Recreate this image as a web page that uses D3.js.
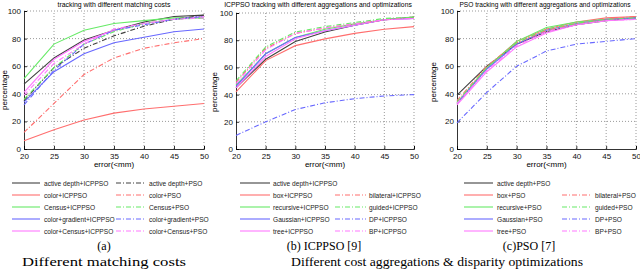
<!DOCTYPE html>
<html><head><meta charset="utf-8">
<script src="https://cdn.jsdelivr.net/npm/d3@7"></script>
<style>body{margin:0;background:#fff}svg{display:block}</style>
</head><body>
<svg id="c" width="640" height="274"></svg>
<script>
// ---------- DATA ----------
const errorTicks = [20, 25, 30, 35, 40, 45, 50];
const pctTicks = [0, 20, 40, 60, 80, 100];

// Panel (a): matching costs
const aNames = ["active depth+ICPPSO","color+ICPPSO","Census+ICPPSO","color+gradient+ICPPSO","color+Census+ICPPSO",
                "active depth+PSO","color+PSO","Census+PSO","color+gradient+PSO","color+Census+PSO"];
const aActiveICP   = [47, 66, 79, 86, 92, 96, 97];
const aColorICP    = [6, 14, 21, 26, 29, 31, 33];
const aCensusICP   = [51, 76, 86, 91, 93, 95, 95];
const aGradICP     = [34, 56, 69, 77, 81, 85, 87];
const aColCenICP   = [41, 65, 78, 86, 91, 94, 96];
const aActivePSO   = [35, 59, 73, 82, 89, 94, 97];
const aColorPSO    = [12, 33, 54, 66, 73, 77, 80];
const aCensusPSO   = [36, 59, 76, 85, 91, 94, 95];
const aGradPSO     = [32, 57, 76, 86, 90, 94, 96];
const aColCenPSO   = [39, 62, 76, 87, 91, 94, 95];

// Panel (b): ICPPSO
const bNames = ["active depth+ICPPSO","box+ICPPSO","recursive+ICPPSO","Gaussian+ICPPSO","tree+ICPPSO",
                "bilateral+ICPPSO","guided+ICPPSO","DP+ICPPSO","BP+ICPPSO"];
const bActive    = [45, 66, 79, 86, 91, 95, 97];
const bBox       = [42, 65, 76, 81, 85, 88, 90];
const bRecursive = [47, 70, 82, 88, 92, 95, 97];
const bGaussian  = [46, 70, 82, 87, 91, 95, 96];
const bTree      = [45, 68, 81, 87, 91, 95, 96];
const bBilateral = [49, 74, 85, 89, 92, 95, 97];
const bGuided    = [50, 75, 86, 90, 93, 96, 97];
const bDP        = [10, 20, 29, 34, 37, 39, 40];
const bBP        = [48, 73, 85, 89, 92, 95, 96];

// Panel (c): PSO
const cNames = ["active depth+PSO","box+PSO","recursive+PSO","Gaussian+PSO","tree+PSO",
                "bilateral+PSO","guided+PSO","DP+PSO","BP+PSO"];
const cActive    = [39, 60, 76, 85, 90, 93, 95];
const cBox       = [33, 59, 78, 87, 92, 95, 96];
const cRecursive = [33, 59, 78, 88, 92, 94, 95];
const cGaussian  = [33, 58, 76, 86, 91, 94, 95];
const cTree      = [32, 56, 74, 84, 90, 93, 94];
const cBilateral = [35, 60, 77, 86, 91, 94, 96];
const cGuided    = [34, 59, 77, 87, 91, 94, 95];
const cDP        = [19, 41, 60, 71, 76, 78, 80];
const cBP        = [33, 57, 75, 85, 90, 93, 94];

const titles = ["tracking with different matching costs",
                "ICPPSO tracking with different aggregations and optimizations",
                "PSO tracking with different aggregations and optimizations"];
const subCaptions = ["(a)", "(b) ICPPSO [9]", "(c)PSO [7]"];
const captions = ["Different matching costs", "Different cost aggregations & disparity optimizations"];
const xLabel = "error(<mm)";
const yLabel = "percentage";

// ---------- STYLE ----------
const C = {k:"#404040", r:"#ff6e6e", g:"#66ea66", b:"#6868ff", m:"#ff78ff"};
const SOLID = null, DASHDOT = "5,2,1,2";

const svg = d3.select("#c");
const sans = "'Liberation Sans', Arial, sans-serif";
const serif = "'Liberation Serif', 'Times New Roman', serif";

function panel(cfg) {
  const x = d3.scaleLinear().domain([20, 50]).range([cfg.x0, cfg.x1]);
  const y = d3.scaleLinear().domain([0, 100]).range([cfg.y0, cfg.y1]);
  const g = svg.append("g");
  // grid
  g.selectAll(".gx").data(errorTicks.slice(1)).enter().append("line")
    .attr("x1", d => x(d)).attr("x2", d => x(d)).attr("y1", y(0)).attr("y2", y(100))
    .attr("stroke", "#555").attr("stroke-width", 0.6).attr("stroke-dasharray", "1,2");
  g.selectAll(".gy").data(pctTicks.slice(1)).enter().append("line")
    .attr("x1", x(20)).attr("x2", x(50)).attr("y1", d => y(d)).attr("y2", d => y(d))
    .attr("stroke", "#555").attr("stroke-width", 0.6).attr("stroke-dasharray", "1,2");
  // axes
  const ax = g.append("g").attr("transform", `translate(0,${y(0)})`)
    .call(d3.axisBottom(x).tickValues(errorTicks).tickSize(-3).tickPadding(3));
  const ay = g.append("g").attr("transform", `translate(${x(20)},0)`)
    .call(d3.axisLeft(y).tickValues(pctTicks).tickSize(-3).tickPadding(3));
  [ax, ay].forEach(a => {
    a.selectAll("path").attr("stroke", "#000").attr("stroke-width", 0.8);
    a.selectAll("line").attr("stroke", "#000").attr("stroke-width", 0.8);
    a.selectAll("text").attr("font-family", sans).attr("font-size", 8).attr("fill", "#111");
  });
  ax.selectAll("text").attr("dy", "0.9em");
  // lines
  const line = d3.line().x((d, i) => x(errorTicks[i])).y(d => y(d));
  cfg.series.forEach(s => {
    g.append("path").datum(s.v).attr("d", line).attr("fill", "none")
      .attr("stroke", s.c).attr("stroke-width", 1.1)
      .attr("stroke-dasharray", s.d);
  });
  // labels
  g.append("text").attr("x", cfg.tx).attr("y", 7)
    .attr("text-anchor", "middle").attr("font-family", sans).attr("font-size", cfg.tf).text(cfg.title);
  g.append("text").attr("x", (cfg.x0 + cfg.x1) / 2).attr("y", 167)
    .attr("text-anchor", "middle").attr("font-family", sans).attr("font-size", 8).text(xLabel);
  g.append("text").attr("transform", `translate(${cfg.yl},${cfg.ylc}) rotate(-90)`)
    .attr("text-anchor", "middle").attr("font-family", sans).attr("font-size", 8).text(yLabel);
  // legend
  cfg.legend.forEach(L => {
    g.append("line").attr("x1", L.lx0).attr("x2", L.lx1).attr("y1", L.y).attr("y2", L.y)
      .attr("stroke", L.s.c).attr("stroke-width", 1.1).attr("stroke-dasharray", L.s.d);
    g.append("text").attr("x", L.tx).attr("y", L.y + 2.5).attr("font-family", sans)
      .attr("font-size", 6.6).attr("fill", "#222").text(L.s.n);
  });
}

function mk(names, vals, cols, dashes) {
  return names.map((n, i) => ({n, v: vals[i], c: cols[i], d: dashes[i]}));
}

const rows = [183, 195, 207, 219, 231];

// Panel (a)
const aS = mk(aNames, [aActiveICP, aColorICP, aCensusICP, aGradICP, aColCenICP, aActivePSO, aColorPSO, aCensusPSO, aGradPSO, aColCenPSO],
  [C.k, C.r, C.g, C.b, C.m, C.k, C.r, C.g, C.b, C.m],
  [SOLID, SOLID, SOLID, SOLID, SOLID, DASHDOT, DASHDOT, DASHDOT, DASHDOT, DASHDOT]);
panel({x0: 24, x1: 204, y0: 149, y1: 11, yl: 7, ylc: 90, tx: 114, tf: 6.9, title: titles[0], series: aS,
  legend: aS.map((s, i) => i < 5 ? {s, y: rows[i], lx0: 12, lx1: 40, tx: 44}
                                 : {s, y: rows[i - 5], lx0: 116, lx1: 146, tx: 149})});

// Panel (b)
const bS = mk(bNames, [bActive, bBox, bRecursive, bGaussian, bTree, bBilateral, bGuided, bDP, bBP],
  [C.k, C.r, C.g, C.b, C.m, C.r, C.g, C.b, C.m],
  [SOLID, SOLID, SOLID, SOLID, SOLID, DASHDOT, DASHDOT, DASHDOT, DASHDOT]);
panel({x0: 236, x1: 414, y0: 149, y1: 13, yl: 217, ylc: 92, tx: 318, tf: 6.8, title: titles[1], series: bS,
  legend: bS.map((s, i) => i < 5 ? {s, y: rows[i], lx0: 240, lx1: 270, tx: 273}
                                 : {s, y: rows[i - 4], lx0: 335, lx1: 366, tx: 369})});

// Panel (c)
const cS = mk(cNames, [cActive, cBox, cRecursive, cGaussian, cTree, cBilateral, cGuided, cDP, cBP],
  [C.k, C.r, C.g, C.b, C.m, C.r, C.g, C.b, C.m],
  [SOLID, SOLID, SOLID, SOLID, SOLID, DASHDOT, DASHDOT, DASHDOT, DASHDOT]);
panel({x0: 457, x1: 636, y0: 149, y1: 11, yl: 436, ylc: 82, tx: 545, tf: 6.6, title: titles[2], series: cS,
  legend: cS.map((s, i) => i < 5 ? {s, y: rows[i], lx0: 464, lx1: 493, tx: 497}
                                 : {s, y: rows[i - 4], lx0: 562, lx1: 592, tx: 595})});

// captions
[[104, subCaptions[0]], [324, subCaptions[1]], [529, subCaptions[2]]].forEach(([cx, t]) => {
  svg.append("text").attr("x", cx).attr("y", 250).attr("text-anchor", "middle")
    .attr("font-family", serif).attr("font-size", 12).text(t);
});
svg.append("text").attr("x", 104).attr("y", 266).attr("text-anchor", "middle")
  .attr("font-family", serif).attr("font-size", 12.5)
  .attr("textLength", 164).attr("lengthAdjust", "spacingAndGlyphs").text(captions[0]);
svg.append("text").attr("x", 437).attr("y", 266).attr("text-anchor", "middle")
  .attr("font-family", serif).attr("font-size", 12.5)
  .attr("textLength", 292).attr("lengthAdjust", "spacingAndGlyphs").text(captions[1]);
</script>
</body></html>
